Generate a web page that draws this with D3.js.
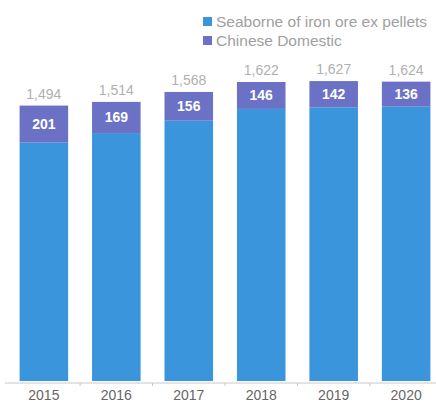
<!DOCTYPE html>
<html><head><meta charset="utf-8">
<script src="https://cdn.jsdelivr.net/npm/d3@7"></script>
<style>body{margin:0;background:#fff}svg{display:block}</style>
</head><body>
<script>
const years = ["2015","2016","2017","2018","2019","2020"];
const seaborne = [1293, 1345, 1412, 1476, 1485, 1488];
const domestic = [201, 169, 156, 146, 142, 136];
const totals = [1494, 1514, 1568, 1622, 1627, 1624];
const seriesNames = ["Seaborne of iron ore ex pellets", "Chinese Domestic"];
const colors = ["#3b95dc", "#6b72c6"];

const W = 436, H = 403;
const svg = d3.select("body").append("svg").attr("width", W).attr("height", H);

const x = d3.scaleBand().domain(years).range([8, 442]).paddingInner(0.33).paddingOuter(0.16);
const y = d3.scaleLinear().domain([0, 1622]).range([381, 82]);

const rows = years.map((yr, i) => ({year: yr, seaborne: seaborne[i], domestic: domestic[i], total: totals[i]}));
const stack = d3.stack().keys(["seaborne", "domestic"])(rows);

svg.append("g").selectAll("g").data(stack).join("g")
  .attr("fill", (d, i) => colors[i])
  .selectAll("rect").data(d => d).join("rect")
  .attr("x", d => x(d.data.year))
  .attr("width", x.bandwidth())
  .attr("y", d => y(d[1]))
  .attr("height", d => y(d[0]) - y(d[1]));

// domestic labels
svg.append("g").selectAll("text").data(rows).join("text")
  .attr("x", d => x(d.year) + x.bandwidth() / 2)
  .attr("y", d => (y(d.seaborne) + y(d.seaborne + d.domestic)) / 2 + 5)
  .attr("text-anchor", "middle")
  .attr("font-family", "Liberation Sans, Arial, sans-serif")
  .attr("font-size", 14).attr("font-weight", "bold")
  .attr("fill", "#fff")
  .text(d => d.domestic);

// totals
svg.append("g").selectAll("text").data(rows).join("text")
  .attr("x", d => x(d.year) + x.bandwidth() / 2)
  .attr("y", d => y(d.total) - 7)
  .attr("text-anchor", "middle")
  .attr("font-family", "Liberation Sans, Arial, sans-serif")
  .attr("font-size", 14)
  .attr("fill", "#b0b0b0")
  .text(d => d3.format(",")(d.total));

// x axis
const ax = svg.append("g").attr("transform", "translate(0,383)")
  .call(d3.axisBottom(x).tickSize(3).tickPadding(4));
ax.select(".domain").attr("stroke", "#c8c8c8").attr("d", "M5,0H436");
ax.selectAll(".tick line").attr("stroke", "#c8c8c8").attr("transform", `translate(${x.step()/2},0)`);
ax.selectAll(".tick text")
  .attr("font-family", "Liberation Sans, Arial, sans-serif")
  .attr("font-size", 14).attr("fill", "#666");

// legend
const lg = svg.append("g").selectAll("g").data(seriesNames).join("g")
  .attr("transform", (d, i) => `translate(203,${17 + i * 19})`);
lg.append("rect").attr("width", 9).attr("height", 9).attr("y", 0)
  .attr("fill", (d, i) => colors[i]);
lg.append("text").attr("x", 13).attr("y", 10)
  .attr("font-family", "Liberation Sans, Arial, sans-serif")
  .attr("font-size", 15.5).attr("fill", "#a0a0a0")
  .text(d => d);
</script>
</body></html>
